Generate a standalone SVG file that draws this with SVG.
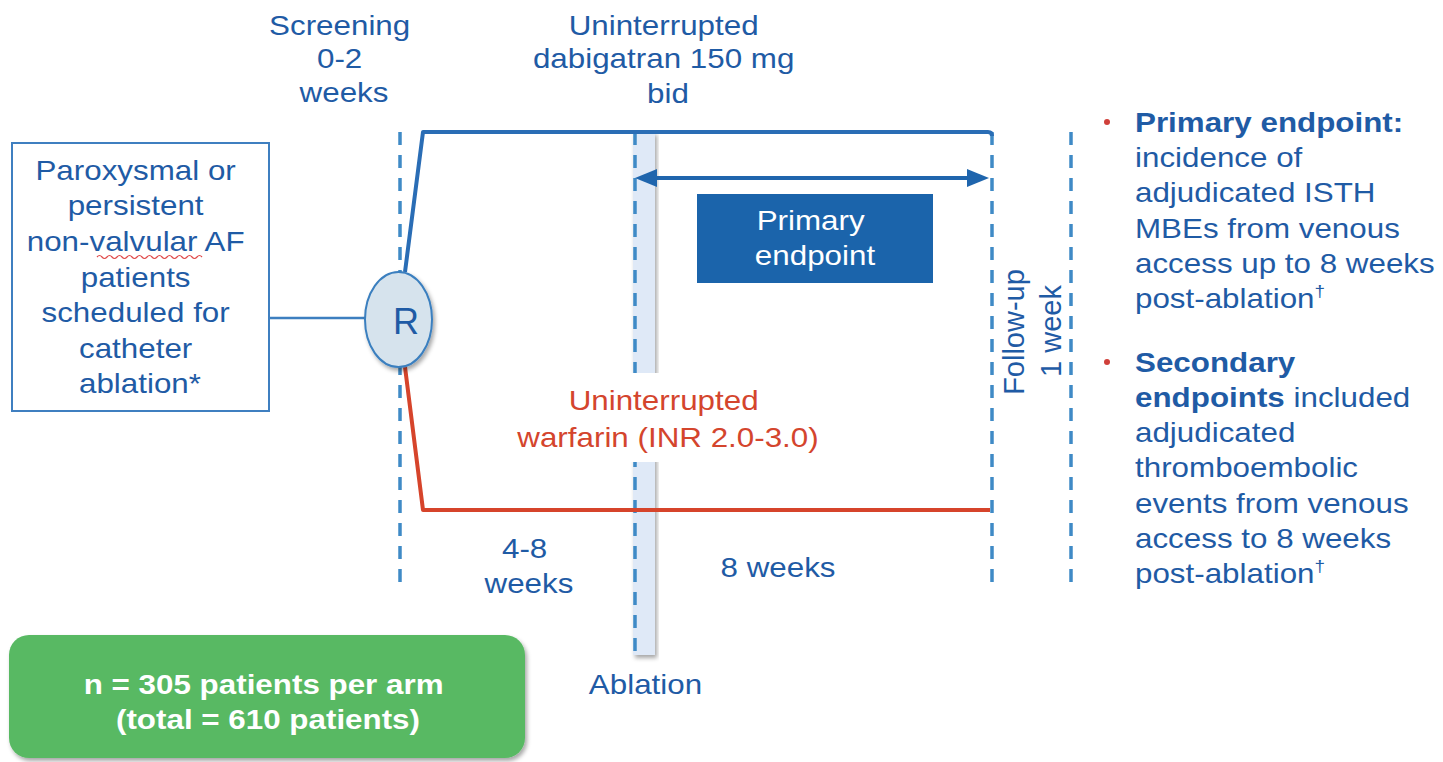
<svg xmlns="http://www.w3.org/2000/svg" width="1443" height="762" viewBox="0 0 1443 762">
<defs>
<style>
text{font-family:"Liberation Sans",Arial,sans-serif;font-size:28px;fill:#1f5ba5}
.c{text-anchor:middle}
.red{fill:#d4452d}
.w{fill:#ffffff}
.b{font-weight:bold}
.dash{stroke:#3f8ac6;stroke-width:3.5;stroke-dasharray:13 10;fill:none}
.arm{fill:none;stroke-width:4;stroke-linejoin:round}
</style>
<marker id="ah" viewBox="0 0 22 18" refX="17" refY="9" markerWidth="22" markerHeight="18" markerUnits="userSpaceOnUse" orient="auto-start-reverse">
<path d="M0,0 L22,9 L0,18 z" fill="#1f65ad"/>
</marker>
<filter id="sh" x="-10%" y="-10%" width="125%" height="125%">
<feDropShadow dx="2" dy="3" stdDeviation="2" flood-color="#000" flood-opacity="0.35"/>
</filter>
</defs>
<rect width="1443" height="762" fill="#ffffff"/>

<g id="ablation-band">
<rect x="633" y="132" width="22" height="523" fill="#dfe9f7" filter="url(#sh)"/>
</g>

<g id="timeline-guides">
<line class="dash" x1="400" y1="132" x2="400" y2="592"/>
<line class="dash" x1="635" y1="132" x2="635" y2="655"/>
<line class="dash" x1="992" y1="132" x2="992" y2="592"/>
<line class="dash" x1="1071" y1="132" x2="1071" y2="592"/>
</g>

<g id="connectors">
<line x1="270" y1="318" x2="366" y2="318" stroke="#3d7fc0" stroke-width="2.5"/>
<path class="arm" d="M405,272 L423,132 L988,132 Q992,132 992,136" stroke="#2a6db5"/>
<path class="arm" d="M405,367 L423,510 L990,510" stroke="#d6442b"/>
<line x1="640" y1="178" x2="984" y2="178" stroke="#1f65ad" stroke-width="4" marker-start="url(#ah)" marker-end="url(#ah)"/>
</g>

<g id="population">
<rect x="12" y="143" width="257" height="268" fill="#ffffff" stroke="#3f7fc0" stroke-width="2"/>
<text class="c" transform="matrix(1.12 0 0 1 -16.8 0)">
<tspan x="140" y="180">Paroxysmal or</tspan>
<tspan x="140" y="215.5">persistent</tspan>
<tspan x="140" y="251">non-valvular AF</tspan>
<tspan x="140" y="287">patients</tspan>
<tspan x="140" y="322.5">scheduled for</tspan>
<tspan x="140" y="358">catheter</tspan>
<tspan x="140" y="393.5">ablation*</tspan>
</text>
<path d="M97,257 q2.5,-3 5,0 t5,0 t5,0 t5,0 t5,0 t5,0 t5,0 t5,0 t5,0 t5,0 t5,0 t5,0 t5,0 t5,0 t5,0 t5,0 t5,0 t5,0 t5,0 t5,0 t5,0" fill="none" stroke="#e04a4a" stroke-width="1.2"/>
</g>

<g id="randomisation">
<ellipse cx="398.5" cy="319.5" rx="33.5" ry="47.5" fill="#d6e3ed" stroke="#3a7fbf" stroke-width="2" filter="url(#sh)"/>
<text class="c" x="406" y="334" style="font-size:36px">R</text>
</g>

<g id="screening-label">
<text class="c" transform="matrix(1.12 0 0 1 -41.28 0)">
<tspan x="344" y="35">Screening</tspan>
<tspan x="344" y="68">0-2</tspan>
<tspan x="344" y="102">weeks</tspan>
</text>
</g>

<g id="dabigatran-label">
<text class="c" transform="matrix(1.12 0 0 1 -80.16 0)">
<tspan x="668" y="35">Uninterrupted</tspan>
<tspan x="668" y="68">dabigatran 150 mg</tspan>
<tspan x="668" y="103">bid</tspan>
</text>
</g>

<g id="primary-endpoint-box">
<rect x="697" y="194" width="236" height="89" fill="#1b64ab"/>
<text class="c w" transform="matrix(1.12 0 0 1 -97.8 0)">
<tspan x="815" y="230">Primary</tspan>
<tspan x="815" y="265">endpoint</tspan>
</text>
</g>

<g id="warfarin-label">
<rect x="500" y="373" width="340" height="89" fill="#ffffff"/>
<text class="c red" transform="matrix(1.12 0 0 1 -80.16 0)">
<tspan x="668" y="410">Uninterrupted</tspan>
<tspan x="668" y="447">warfarin (INR 2.0-3.0)</tspan>
</text>
</g>

<g id="duration-labels">
<text class="c" transform="matrix(1.12 0 0 1 -63.48 0)">
<tspan x="529" y="558">4-8</tspan>
<tspan x="529" y="593">weeks</tspan>
</text>
<text class="c" x="778" y="577" transform="matrix(1.12 0 0 1 -93.36 0)">8 weeks</text>
<text class="c" x="645.5" y="694" transform="matrix(1.12 0 0 1 -77.46 0)">Ablation</text>
<text class="c" transform="translate(1024,332) rotate(-90)" style="font-size:29px">Follow-up</text>
<text class="c" transform="translate(1061,331) rotate(-90)" style="font-size:29px">1 week</text>
</g>

<g id="endpoints">
<circle cx="1107" cy="122" r="3" fill="#d0403a"/>
<circle cx="1107" cy="362" r="3" fill="#d0403a"/>
<text transform="matrix(1.12 0 0 1 -136.2 0)">
<tspan x="1135" y="132" class="b">Primary endpoint:</tspan>
<tspan x="1135" y="167">incidence of</tspan>
<tspan x="1135" y="202">adjudicated ISTH</tspan>
<tspan x="1135" y="238">MBEs from venous</tspan>
<tspan x="1135" y="273">access up to 8 weeks</tspan>
<tspan x="1135" y="308">post-ablation</tspan><tspan dy="-11" style="font-size:17px">†</tspan>
<tspan x="1135" y="372" class="b">Secondary</tspan>
<tspan x="1135" y="407"><tspan class="b">endpoints</tspan> included</tspan>
<tspan x="1135" y="442">adjudicated</tspan>
<tspan x="1135" y="477">thromboembolic</tspan>
<tspan x="1135" y="513">events from venous</tspan>
<tspan x="1135" y="548">access to 8 weeks</tspan>
<tspan x="1135" y="583">post-ablation</tspan><tspan dy="-11" style="font-size:17px">†</tspan>
</text>
</g>

<g id="sample-size">
<rect x="9" y="635" width="516" height="123" rx="20" ry="20" fill="#59b964" filter="url(#sh)"/>
<text class="c w b" transform="matrix(1.12 0 0 1 -32.16 0)">
<tspan x="268" y="694">n = 305 patients per arm</tspan>
<tspan x="268" y="729">(total = 610 patients)</tspan>
</text>
</g>
</svg>
